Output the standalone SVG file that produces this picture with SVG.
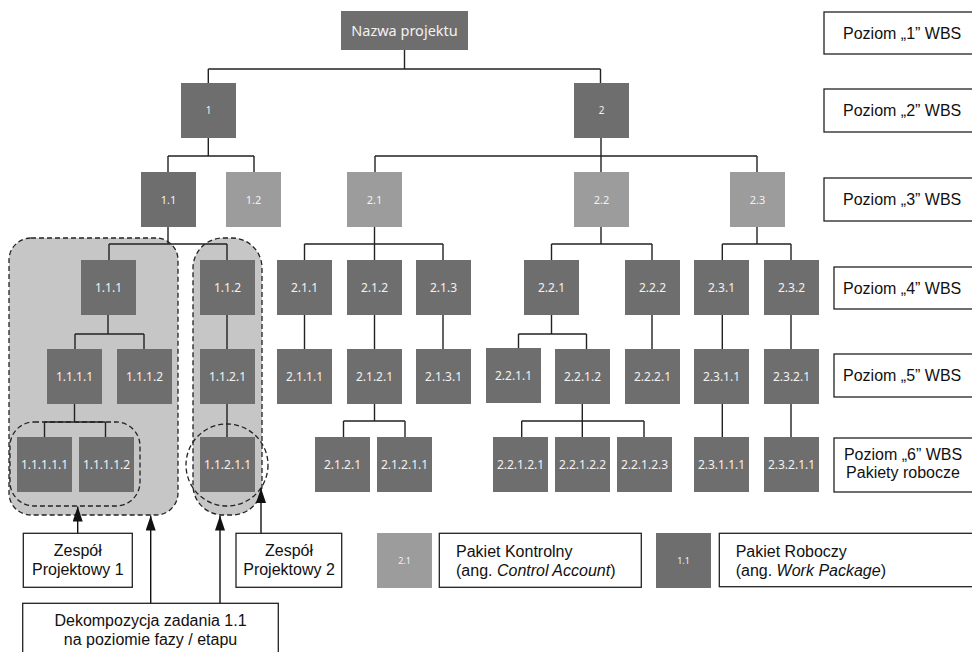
<svg xmlns="http://www.w3.org/2000/svg" width="972" height="652" viewBox="0 0 972 652">
  <style>
    .dk { fill: #6e6e6e; }
    .lt { fill: #9c9c9c; }
    .nt { fill: #f2f2f2; font-family: "Noto Sans", "Open Sans", sans-serif; text-anchor: middle; }
    .s2 { font-size: 10px; }
    .s3 { font-size: 11px; }
    .s4 { font-size: 12px; }
    .lbl { fill: #fff; stroke: #222; stroke-width: 1.3; }
    .lt-txt { fill: #111; font-family: "Liberation Sans", Arial, sans-serif; font-size: 16px; }
    .grp { fill: #c6c6c6; stroke: #222; stroke-width: 1.3; stroke-dasharray: 5 3; }
    .ring { fill: none; stroke: #222; stroke-width: 1.3; stroke-dasharray: 5 3; }
    .conn { fill: none; stroke: #222; stroke-width: 1.4; }
    .arr { fill: none; stroke: #111; stroke-width: 1.4; marker-end: url(#head); }
  </style>
  <defs>
    <marker id="head" markerUnits="userSpaceOnUse" markerWidth="15" markerHeight="10" refX="15" refY="5" viewBox="0 0 15 10" orient="auto">
      <path d="M0,0 L15,5 L0,10 Z" fill="#111"/>
    </marker>
  </defs>

  <rect width="972" height="652" fill="#fff"/>

  <!-- team groupings behind the tree -->
  <g id="groups">
    <rect class="grp" x="9" y="238" width="169" height="277" rx="22" ry="22"/>
    <rect class="grp" x="193" y="238" width="69" height="277" rx="30" ry="30"/>
    <rect class="ring" x="10" y="422" width="130" height="84" rx="24" ry="24"/>
    <ellipse class="ring" cx="227" cy="465" rx="41" ry="41"/>
  </g>

  <!-- tree connectors -->
  <g id="connectors" class="conn">
    <path d="M404.5,50 V69 M208.3,69 H600.5 M208.3,69 V83 M600.5,69 V83"/>
    <path d="M208.3,138 V156 M168,156 H254 M168,156 V172 M254,156 V172"/>
    <path d="M601,138 V156 M375,156 H757 M375,156 V172 M601,156 V172 M757,156 V172"/>
    <path d="M168,227 V244 M109,244 H227 M109,244 V260 M227,244 V260"/>
    <path d="M108,315 V334 M75,334 H144 M75,334 V349 M144,334 V349"/>
    <path d="M227,315 V349 M227,404 V437"/>
    <path d="M74.5,404 V422 M44.5,422 H105.5 M44.5,422 V437 M105.5,422 V437"/>
    <path d="M374.5,227 V244 M304.5,244 H443 M304.5,244 V260 M374.5,244 V260 M443,244 V260"/>
    <path d="M304.5,315 V349 M374.5,315 V349 M443,315 V349"/>
    <path d="M374.5,404 V421 M343.5,421 H405 M343.5,421 V437 M405,421 V437"/>
    <path d="M601,227 V244 M551.5,244 H652 M551.5,244 V260 M652,244 V260"/>
    <path d="M551.5,315 V334 M518.5,334 H586.5 M518.5,334 V348 M586.5,334 V349"/>
    <path d="M652,315 V349"/>
    <path d="M582.3,404 V421 M521.7,421 H644 M521.7,421 V437 M582.3,421 V437 M644,421 V437"/>
    <path d="M757,227 V244 M722.3,244 H791 M722.3,244 V260 M791,244 V260"/>
    <path d="M722.3,315 V349 M791,315 V349 M722.3,404 V437 M791,404 V437"/>
  </g>

  <!-- level 1 -->
  <g id="n-root"><rect class="dk" x="341" y="11" width="127" height="39"/><text class="nt" x="404.5" y="35.5" font-size="14.5">Nazwa projektu</text></g>

  <!-- level 2 -->
  <g id="n-1"><rect class="dk" x="181" y="83" width="55" height="55"/><text class="nt s2" x="208.5" y="114">1</text></g>
  <g id="n-2"><rect class="dk" x="574" y="83" width="55" height="55"/><text class="nt s2" x="601.5" y="114">2</text></g>

  <!-- level 3 -->
  <g id="n-1-1"><rect class="dk" x="141" y="172" width="55" height="55"/><text class="nt s3" x="168.5" y="203.5">1.1</text></g>
  <g id="n-1-2"><rect class="lt" x="226" y="172" width="55" height="55"/><text class="nt s3" x="253.5" y="203.5">1.2</text></g>
  <g id="n-2-1"><rect class="lt" x="347" y="172" width="55" height="55"/><text class="nt s3" x="374.5" y="203.5">2.1</text></g>
  <g id="n-2-2"><rect class="lt" x="574" y="172" width="55" height="55"/><text class="nt s3" x="601.5" y="203.5">2.2</text></g>
  <g id="n-2-3"><rect class="lt" x="730" y="172" width="55" height="55"/><text class="nt s3" x="757.5" y="203.5">2.3</text></g>

  <!-- level 4 -->
  <g id="n-1-1-1"><rect class="dk" x="81" y="260" width="55" height="55"/><text class="nt s4" x="108.5" y="291.5">1.1.1</text></g>
  <g id="n-1-1-2"><rect class="dk" x="200" y="260" width="55" height="55"/><text class="nt s4" x="227.5" y="291.5">1.1.2</text></g>
  <g id="n-2-1-1"><rect class="dk" x="277" y="260" width="55" height="55"/><text class="nt s4" x="304.5" y="291.5">2.1.1</text></g>
  <g id="n-2-1-2"><rect class="dk" x="347" y="260" width="55" height="55"/><text class="nt s4" x="374.5" y="291.5">2.1.2</text></g>
  <g id="n-2-1-3"><rect class="dk" x="416" y="260" width="55" height="55"/><text class="nt s4" x="443.5" y="291.5">2.1.3</text></g>
  <g id="n-2-2-1"><rect class="dk" x="524" y="260" width="55" height="55"/><text class="nt s4" x="551.5" y="291.5">2.2.1</text></g>
  <g id="n-2-2-2"><rect class="dk" x="625" y="260" width="55" height="55"/><text class="nt s4" x="652.5" y="291.5">2.2.2</text></g>
  <g id="n-2-3-1"><rect class="dk" x="694" y="260" width="55" height="55"/><text class="nt s4" x="721.5" y="291.5">2.3.1</text></g>
  <g id="n-2-3-2"><rect class="dk" x="764" y="260" width="55" height="55"/><text class="nt s4" x="791.5" y="291.5">2.3.2</text></g>

  <!-- level 5 -->
  <g id="n-1-1-1-1"><rect class="dk" x="47" y="349" width="55" height="55"/><text class="nt s4" x="74.5" y="380.5">1.1.1.1</text></g>
  <g id="n-1-1-1-2"><rect class="dk" x="117" y="349" width="55" height="55"/><text class="nt s4" x="144.5" y="380.5">1.1.1.2</text></g>
  <g id="n-1-1-2-1"><rect class="dk" x="200" y="349" width="55" height="55"/><text class="nt s4" x="227.5" y="380.5">1.1.2.1</text></g>
  <g id="n-2-1-1-1"><rect class="dk" x="277" y="349" width="55" height="55"/><text class="nt s4" x="304.5" y="380.5">2.1.1.1</text></g>
  <g id="n-2-1-2-1"><rect class="dk" x="347" y="349" width="55" height="55"/><text class="nt s4" x="374.5" y="380.5">2.1.2.1</text></g>
  <g id="n-2-1-3-1"><rect class="dk" x="416" y="349" width="55" height="55"/><text class="nt s4" x="443.5" y="380.5">2.1.3.1</text></g>
  <g id="n-2-2-1-1"><rect class="dk" x="486" y="348" width="55" height="55"/><text class="nt s4" x="513.5" y="379.5">2.2.1.1</text></g>
  <g id="n-2-2-1-2"><rect class="dk" x="555" y="349" width="55" height="55"/><text class="nt s4" x="582.5" y="380.5">2.2.1.2</text></g>
  <g id="n-2-2-2-1"><rect class="dk" x="625" y="349" width="55" height="55"/><text class="nt s4" x="652.5" y="380.5">2.2.2.1</text></g>
  <g id="n-2-3-1-1"><rect class="dk" x="694" y="349" width="55" height="55"/><text class="nt s4" x="721.5" y="380.5">2.3.1.1</text></g>
  <g id="n-2-3-2-1"><rect class="dk" x="764" y="349" width="55" height="55"/><text class="nt s4" x="791.5" y="380.5">2.3.2.1</text></g>

  <!-- level 6: work packages -->
  <g id="n-1-1-1-1-1"><rect class="dk" x="17" y="437" width="55" height="55"/><text class="nt s4" x="44.5" y="468.5">1.1.1.1.1</text></g>
  <g id="n-1-1-1-1-2"><rect class="dk" x="79" y="437" width="55" height="55"/><text class="nt s4" x="106.5" y="468.5">1.1.1.1.2</text></g>
  <g id="n-1-1-2-1-1"><rect class="dk" x="200" y="437" width="55" height="55"/><text class="nt s4" x="227.5" y="468.5">1.1.2.1.1</text></g>
  <g id="n-2-1-2-1-a"><rect class="dk" x="315" y="437" width="55" height="55"/><text class="nt s4" x="342.5" y="468.5">2.1.2.1</text></g>
  <g id="n-2-1-2-1-1"><rect class="dk" x="377" y="437" width="55" height="55"/><text class="nt s4" x="404.5" y="468.5">2.1.2.1.1</text></g>
  <g id="n-2-2-1-2-1"><rect class="dk" x="493" y="437" width="55" height="55"/><text class="nt s4" x="520.5" y="468.5">2.2.1.2.1</text></g>
  <g id="n-2-2-1-2-2"><rect class="dk" x="555" y="437" width="55" height="55"/><text class="nt s4" x="582.5" y="468.5">2.2.1.2.2</text></g>
  <g id="n-2-2-1-2-3"><rect class="dk" x="617" y="437" width="55" height="55"/><text class="nt s4" x="644.5" y="468.5">2.2.1.2.3</text></g>
  <g id="n-2-3-1-1-1"><rect class="dk" x="694" y="437" width="55" height="55"/><text class="nt s4" x="721.5" y="468.5">2.3.1.1.1</text></g>
  <g id="n-2-3-2-1-1"><rect class="dk" x="764" y="437" width="55" height="55"/><text class="nt s4" x="791.5" y="468.5">2.3.2.1.1</text></g>

  <!-- level captions on the right -->
  <g id="lvl-1"><rect class="lbl" x="824" y="12" width="160" height="42"/><text class="lt-txt" x="843" y="38.5">Poziom „1” WBS</text></g>
  <g id="lvl-2"><rect class="lbl" x="824" y="89" width="160" height="43"/><text class="lt-txt" x="843" y="116">Poziom „2” WBS</text></g>
  <g id="lvl-3"><rect class="lbl" x="824" y="178" width="160" height="43"/><text class="lt-txt" x="843" y="205">Poziom „3” WBS</text></g>
  <g id="lvl-4"><rect class="lbl" x="834" y="267" width="160" height="42"/><text class="lt-txt" x="843" y="293.5">Poziom „4” WBS</text></g>
  <g id="lvl-5"><rect class="lbl" x="834" y="354" width="160" height="43"/><text class="lt-txt" x="843" y="381">Poziom „5” WBS</text></g>
  <g id="lvl-6"><rect class="lbl" x="834" y="438" width="160" height="54"/><text class="lt-txt" x="903" y="460" text-anchor="middle">Poziom „6” WBS</text><text class="lt-txt" x="903" y="478" text-anchor="middle">Pakiety robocze</text></g>

  <!-- callouts and their arrows -->
  <g id="arrows">
    <line class="arr" x1="77.7" y1="533" x2="77.7" y2="506.5"/>
    <line class="arr" x1="150.7" y1="603" x2="150.7" y2="515.5"/>
    <line class="arr" x1="220" y1="603" x2="220" y2="515.5"/>
    <line class="arr" x1="261" y1="533" x2="261" y2="488"/>
  </g>
  <g id="team-1"><rect class="lbl" x="23.3" y="533.3" width="109" height="54"/><text class="lt-txt" x="77.8" y="556" text-anchor="middle">Zespół</text><text class="lt-txt" x="77.8" y="575" text-anchor="middle">Projektowy 1</text></g>
  <g id="team-2"><rect class="lbl" x="236" y="533.3" width="105.7" height="54"/><text class="lt-txt" x="289" y="556" text-anchor="middle">Zespół</text><text class="lt-txt" x="289" y="575" text-anchor="middle">Projektowy 2</text></g>
  <g id="decomposition"><rect class="lbl" x="22.7" y="603.3" width="255.6" height="60"/><text class="lt-txt" x="150.5" y="626" text-anchor="middle">Dekompozycja zadania 1.1</text><text class="lt-txt" x="150.5" y="645" text-anchor="middle">na poziomie fazy / etapu</text></g>

  <!-- legend -->
  <g id="legend-control"><rect class="lt" x="377" y="533" width="55" height="55"/><text class="nt" x="404.5" y="564" font-size="9">2.1</text><rect class="lbl" x="439.3" y="533.3" width="202" height="54"/><text class="lt-txt" x="456" y="556.5">Pakiet Kontrolny</text><text class="lt-txt" x="456" y="576">(ang. <tspan font-style="italic">Control Account</tspan>)</text></g>
  <g id="legend-work"><rect class="dk" x="656" y="533" width="55" height="55"/><text class="nt" x="683.5" y="564" font-size="9">1.1</text><rect class="lbl" x="719.3" y="533.3" width="270" height="53.4"/><text class="lt-txt" x="735.7" y="556.5">Pakiet Roboczy</text><text class="lt-txt" x="735.7" y="576">(ang. <tspan font-style="italic">Work Package</tspan>)</text></g>
</svg>
